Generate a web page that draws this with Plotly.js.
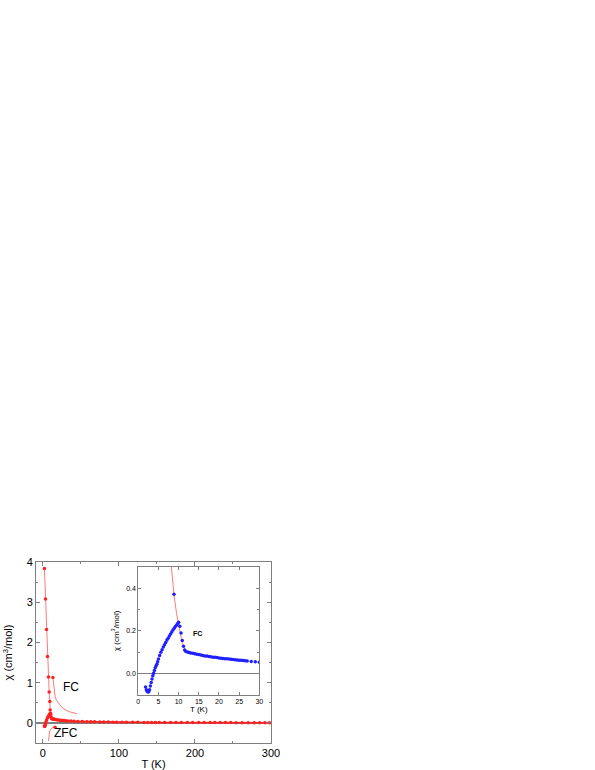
<!DOCTYPE html>
<html>
<head>
<meta charset="utf-8">
<script src="https://cdn.plot.ly/plotly-3.0.1.min.js"></script>
<style>
  html, body { margin: 0; padding: 0; background: #fff; }
  #chart { width: 595px; height: 770px; }
</style>
</head>
<body>
<div id="chart"></div>
<script>
// main panel: red susceptibility data (2 - 300 K)
var mainT = [2, 2.5, 3, 3.5, 4, 5, 6, 7, 8, 9, 10, 10.5, 11, 11.5, 12, 13, 14, 15, 16, 18,
             20, 22, 24, 26, 28, 30,
             33, 37, 41, 46, 52, 58, 63, 68, 75, 80, 86, 92, 97, 104, 110, 118, 125, 133,
             138, 143, 148, 153, 160, 168, 175, 182, 190, 197, 205, 212, 220, 226, 233,
             240, 247, 254, 262, 270, 278, 285, 292, 298];
var mainChi = [-0.08, -0.09, -0.06, -0.02, 0.02, 0.07, 0.12, 0.16, 0.19, 0.22, 0.24, 0.2, 0.14,
               0.11, 0.1, 0.097, 0.093, 0.089, 0.085, 0.079, 0.073, 0.068, 0.065, 0.061, 0.057, 0.053,
               0.048, 0.044, 0.04, 0.036, 0.032, 0.029, 0.027, 0.025, 0.022, 0.021, 0.019, 0.018,
               0.017, 0.016, 0.015, 0.014, 0.013, 0.012, 0.012, 0.011, 0.011, 0.010, 0.010, 0.009,
               0.009, 0.008, 0.008, 0.008, 0.007, 0.007, 0.007, 0.006, 0.006, 0.006, 0.006, 0.005,
               0.005, 0.005, 0.005, 0.005, 0.004, 0.004];

// steep curve with markers at low T
var riseT = [2.1, 3.5, 4.8, 6.1, 7.4, 8.3, 9.2, 9.6];
var riseChi = [3.84, 3.08, 2.32, 1.65, 1.14, 0.77, 0.53, 0.32];

// thin FC curve
var fcT = [13.2, 13.6, 14, 15, 16.2, 18, 20, 22.8, 26, 31.7, 36, 40, 44.8];
var fcChi = [1.13, 1.05, 0.98, 0.82, 0.65, 0.56, 0.5, 0.44, 0.37, 0.30, 0.27, 0.25, 0.23];

// thin ZFC curve
var zfcT = [7.4, 7.7, 8.2, 8.9, 9.8, 11, 12.5, 14.2, 16];
var zfcChi = [-0.45, -0.36, -0.28, -0.22, -0.17, -0.14, -0.12, -0.11, -0.11];

// inset: blue data 2 - 30 K
var insetT = [1.8, 2.0, 2.2, 2.4, 2.6, 2.8, 3.0, 3.2, 3.4, 3.6, 3.8, 4.0, 4.2, 4.4, 4.6, 4.8,
              5.0, 5.3, 5.6, 5.9, 6.2, 6.5, 6.8, 7.1, 7.4, 7.7, 8.0, 8.3, 8.6, 8.9, 9.2, 9.5,
              9.8, 10.0, 10.3, 10.6, 10.9, 11.2, 11.5, 11.8, 12.2, 12.6, 13.0, 13.5, 14.0, 14.5,
              15.0, 15.5, 16.0, 16.5, 17.0, 17.5, 18.0, 18.5, 19.0, 19.5, 20.0, 20.5, 21.0, 21.5,
              22.0, 22.5, 23.0, 23.5, 24.0, 24.5, 25.0, 25.5, 26.0, 26.5, 27.0, 28.0, 29.0, 30.0];
var insetChi = [-0.063, -0.075, -0.083, -0.086, -0.085, -0.075, -0.058, -0.042, -0.025, -0.010,
                0.002, 0.015, 0.027, 0.036, 0.044, 0.055, 0.068, 0.085, 0.100, 0.112, 0.124,
                0.135, 0.146, 0.157, 0.166, 0.176, 0.185, 0.195, 0.204, 0.212, 0.220, 0.227,
                0.234, 0.240, 0.222, 0.190, 0.155, 0.128, 0.110, 0.104, 0.101, 0.099, 0.097,
                0.095, 0.093, 0.091, 0.089, 0.087, 0.085, 0.083, 0.082, 0.080, 0.079, 0.077,
                0.076, 0.075, 0.073, 0.072, 0.071, 0.070, 0.069, 0.068, 0.067, 0.066, 0.065,
                0.064, 0.063, 0.062, 0.061, 0.060, 0.059, 0.057, 0.055, 0.053];
var insetExtraT = [8.85];
var insetExtraChi = [0.371];

// inset: red FC line
var insetLineT = [7.9, 8.2, 8.85, 9.5, 10.1, 10.8, 11.6];
var insetLineChi = [0.56, 0.5, 0.37, 0.28, 0.21, 0.15, 0.11];

var red = '#ff2020';
var lightRed = '#ff7a7a';
var blue = '#2020ff';
var frame = '#7f7f7f';

var data = [
  { x: riseT, y: riseChi, mode: 'lines+markers', type: 'scatter',
    line: { color: lightRed, width: 1 },
    marker: { color: red, size: 3.5 }, xaxis: 'x', yaxis: 'y' },
  { x: fcT, y: fcChi, mode: 'lines', type: 'scatter',
    line: { color: lightRed, width: 1 }, xaxis: 'x', yaxis: 'y' },
  { x: [fcT[0]], y: [fcChi[0]], mode: 'markers', type: 'scatter',
    marker: { color: red, size: 3.5 }, xaxis: 'x', yaxis: 'y' },
  { x: zfcT, y: zfcChi, mode: 'lines', type: 'scatter',
    line: { color: lightRed, width: 1 }, xaxis: 'x', yaxis: 'y' },
  { x: [zfcT[zfcT.length - 1]], y: [zfcChi[zfcChi.length - 1]], mode: 'markers', type: 'scatter',
    marker: { color: red, size: 3.5 }, xaxis: 'x', yaxis: 'y' },
  { x: mainT, y: mainChi, mode: 'lines+markers', type: 'scatter',
    line: { color: red, width: 1.5 },
    marker: { color: red, size: 3.5 }, xaxis: 'x', yaxis: 'y' },

  { x: insetLineT, y: insetLineChi, mode: 'lines', type: 'scatter',
    line: { color: lightRed, width: 1 }, xaxis: 'x2', yaxis: 'y2' },
  { x: insetT, y: insetChi, mode: 'markers', type: 'scatter',
    marker: { color: blue, size: 3.5 }, xaxis: 'x2', yaxis: 'y2' },
  { x: insetExtraT, y: insetExtraChi, mode: 'markers', type: 'scatter',
    marker: { color: blue, size: 3.5 }, xaxis: 'x2', yaxis: 'y2' }
];

var axisBase = {
  showline: true, linecolor: frame, linewidth: 1, mirror: 'ticks',
  ticks: 'inside', tickcolor: frame, showgrid: false
};

var layout = {
  width: 595, height: 770,
  margin: { l: 0, r: 0, t: 0, b: 0 },
  paper_bgcolor: '#fff', plot_bgcolor: 'rgba(0,0,0,0)',
  showlegend: false,
  font: { family: 'Liberation Sans, Arial, sans-serif', color: '#000' },
  xaxis: Object.assign({}, axisBase, {
    domain: [0.0605, 0.4555], anchor: 'y',
    range: [-9, 300], tickvals: [0, 100, 200, 300], ticklen: 4,
    minor: { tickvals: [50, 150, 250], ticks: 'inside', ticklen: 2, tickcolor: frame },
    tickfont: { size: 11, color: '#000' }, zeroline: false,
    title: { text: 'T (K)', font: { size: 11 }, standoff: 2 }
  }),
  yaxis: Object.assign({}, axisBase, {
    domain: [0.0351, 0.2701], anchor: 'x',
    range: [-0.5, 4], tickvals: [0, 1, 2, 3, 4], ticklen: 4,
    minor: { tickvals: [-0.5, 0.5, 1.5, 2.5, 3.5], ticks: 'inside', ticklen: 2, tickcolor: frame },
    tickfont: { size: 11, color: '#000' }, zeroline: true, zerolinecolor: '#808080', zerolinewidth: 1.5,
    title: { text: 'χ (cm<sup>3</sup>/mol)', font: { size: 11 }, standoff: 11 }
  }),
  xaxis2: Object.assign({}, axisBase, {
    domain: [0.2324, 0.4358], anchor: 'y2',
    range: [0, 30], tickvals: [0, 5, 10, 15, 20, 25, 30], ticklen: 3,
    tickfont: { size: 7, color: '#000' }, zeroline: false,
    title: { text: 'T (K)', font: { size: 8 }, standoff: 1 }
  }),
  yaxis2: Object.assign({}, axisBase, {
    domain: [0.0974, 0.264], anchor: 'x2',
    range: [-0.1, 0.5], tickvals: [0, 0.2, 0.4], ticktext: ['0.0', '0.2', '0.4'], ticklen: 3,
    minor: { tickvals: [-0.1, 0.1, 0.3], ticks: 'inside', ticklen: 2, tickcolor: frame },
    tickfont: { size: 7, color: '#000' }, zeroline: true, zerolinecolor: '#808080', zerolinewidth: 1,
    title: { text: 'χ (cm<sup>3</sup>/mol)', font: { size: 8 }, standoff: 5 }
  }),
  annotations: [
    { text: 'FC', x: 37, y: 0.89, xref: 'x', yref: 'y', showarrow: false, font: { size: 12 } },
    { text: 'ZFC', x: 30, y: -0.25, xref: 'x', yref: 'y', showarrow: false, font: { size: 12 } },
    { text: '<b>FC</b>', x: 14.6, y: 0.188, xref: 'x2', yref: 'y2', showarrow: false, font: { size: 7 } }
  ]
};

Plotly.newPlot('chart', data, layout, { displayModeBar: false });
</script>
</body>
</html>
